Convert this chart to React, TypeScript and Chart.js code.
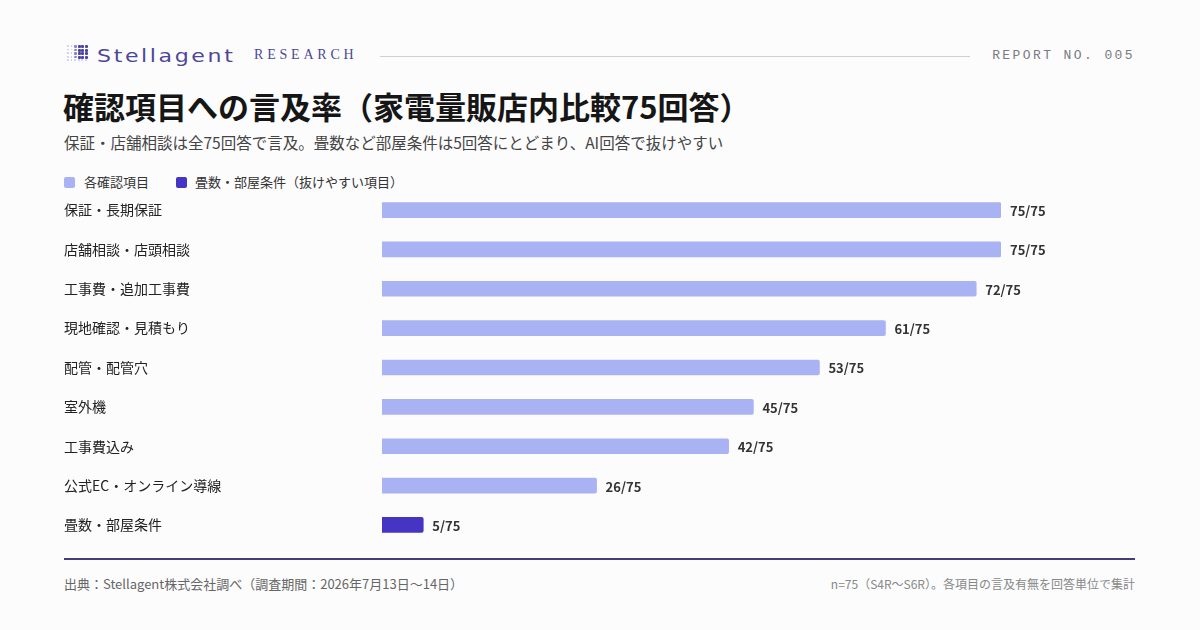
import React, { useEffect, useRef } from "react";
import { Chart, registerables } from "chart.js";

Chart.register(...registerables);

// Items checked in each answer and how many of the 75 answers mention them
const categories = [
  "保証・長期保証",
  "店舗相談・店頭相談",
  "工事費・追加工事費",
  "現地確認・見積もり",
  "配管・配管穴",
  "室外機",
  "工事費込み",
  "公式EC・オンライン導線",
  "畳数・部屋条件",
];
const mentions = [75, 75, 72, 61, 53, 45, 42, 26, 5];
const totalAnswers = 75;
// Items that tend to be dropped from AI answers get the accent colour
const weakItems = ["畳数・部屋条件"];

const legendLabels = ["各確認項目", "畳数・部屋条件（抜けやすい項目）"];

const LIGHT = "#a9b3f4";
const DARK = "#4634c4";
const JP = '"Noto Sans CJK JP", "Noto Sans", sans-serif';

const valueLabels = {
  id: "valueLabels",
  afterDatasetsDraw(chart: any) {
    const { ctx } = chart;
    const meta = chart.getDatasetMeta(0);
    ctx.save();
    ctx.font = `bold 13px ${JP}`;
    ctx.fillStyle = "#333333";
    ctx.textAlign = "left";
    ctx.textBaseline = "middle";
    meta.data.forEach((bar: any, i: number) => {
      ctx.fillText(`${mentions[i]}/${totalAnswers}`, bar.x + 9, bar.y + 1);
    });
    ctx.restore();
  },
};

function BarChart() {
  const ref = useRef<HTMLCanvasElement>(null);
  useEffect(() => {
    if (!ref.current) return;
    const chart = new Chart(ref.current, {
      type: "bar",
      data: {
        labels: categories,
        datasets: [
          {
            data: mentions,
            backgroundColor: categories.map((c) => (weakItems.includes(c) ? DARK : LIGHT)),
            barThickness: 15,
            borderRadius: 2,
            borderSkipped: "start",
          },
        ],
      },
      options: {
        indexAxis: "y",
        animation: false,
        responsive: false,
        maintainAspectRatio: false,
        layout: { padding: { left: 0, right: 63, top: 0, bottom: 0 } },
        plugins: { legend: { display: false }, tooltip: { enabled: false } },
        scales: {
          x: { display: false, min: 0, max: totalAnswers },
          y: {
            offset: true,
            grid: { display: false },
            border: { display: false },
            afterFit(scale: any) {
              scale.width = 318;
            },
            ticks: {
              crossAlign: "far",
              padding: 0,
              color: "#222222",
              font: { family: JP, size: 14 },
            },
          },
        },
      },
      plugins: [valueLabels],
    });
    return () => chart.destroy();
  }, []);
  return (
    <canvas
      ref={ref}
      width={1000}
      height={371}
      style={{ position: "absolute", left: 64, top: 182, width: 1000, height: 371 }}
    />
  );
}

function LogoMark() {
  const dots: React.ReactNode[] = [];
  const cols = 6;
  const rows = 5;
  for (let r = 0; r < rows; r++) {
    for (let c = 0; c < cols; c++) {
      const strong = c >= 3 && r < 4;
      const mid = c === 2 && r < 4;
      const size = strong ? 3 : mid ? 2.5 : 1.8;
      const color = strong ? "#4b43a8" : mid ? "#8a84cc" : "#c9c6e8";
      dots.push(
        <div
          key={`${r}-${c}`}
          style={{
            position: "absolute",
            left: c * 3.6,
            top: r * 3.6,
            width: size,
            height: size,
            borderRadius: 1,
            background: color,
          }}
        />
      );
    }
  }
  return <div style={{ position: "absolute", left: 67, top: 45, width: 22, height: 18 }}>{dots}</div>;
}

export default function App() {
  const abs = (o: React.CSSProperties): React.CSSProperties => ({ position: "absolute", whiteSpace: "nowrap", ...o });
  return (
    <div
      style={{
        position: "fixed",
        left: 0,
        top: 0,
        width: 1200,
        height: 630,
        background: "#fcfcfd",
        fontFamily: JP,
        overflow: "hidden",
      }}
    >
      <LogoMark />
      <div
        style={abs({
          left: 97,
          top: 45,
          fontFamily: '"DejaVu Sans", sans-serif',
          fontSize: 17,
          lineHeight: "22px",
          letterSpacing: 2,
          color: "#4d4796",
          transform: "scaleX(1.3)",
          transformOrigin: "left center",
        })}
      >
        Stellagent
      </div>
      <div
        style={abs({
          left: 254,
          top: 46,
          fontFamily: '"Liberation Serif", "DejaVu Serif", serif',
          fontSize: 14,
          lineHeight: "18px",
          letterSpacing: 3.8,
          color: "#4d4796",
        })}
      >
        RESEARCH
      </div>
      <div style={abs({ left: 380, top: 56, width: 590, height: 1, background: "#cfcfd4" })} />
      <div
        style={abs({
          right: 65,
          top: 47,
          fontFamily: '"Liberation Mono", "DejaVu Sans Mono", monospace',
          fontSize: 13,
          lineHeight: "18px",
          letterSpacing: 2.4,
          color: "#7a7a80",
        })}
      >
        REPORT NO. 005
      </div>

      <div style={abs({ left: 63, top: 87, fontSize: 31, lineHeight: "38px", fontWeight: 700, color: "#161616" })}>
        確認項目への言及率（家電量販店内比較75回答）
      </div>
      <div style={abs({ left: 64, top: 132, fontSize: 15.5, lineHeight: "20px", color: "#444444" })}>
        保証・店舗相談は全75回答で言及。畳数など部屋条件は5回答にとどまり、AI回答で抜けやすい
      </div>

      <div style={abs({ left: 64, top: 173, display: "flex", alignItems: "center", fontSize: 13, lineHeight: "18px", color: "#333333" })}>
        <span style={{ width: 11, height: 11, borderRadius: 2, background: LIGHT, marginRight: 9 }} />
        <span style={{ marginRight: 27 }}>{legendLabels[0]}</span>
        <span style={{ width: 11, height: 11, borderRadius: 2, background: DARK, marginRight: 8 }} />
        <span>{legendLabels[1]}</span>
      </div>

      <BarChart />

      <div style={abs({ left: 64, top: 558, width: 1071, height: 2, background: "#453d78" })} />
      <div style={abs({ left: 64, top: 575, fontSize: 13, lineHeight: "18px", color: "#666666" })}>
        出典：Stellagent株式会社調べ（調査期間：2026年7月13日〜14日）
      </div>
      <div style={abs({ right: 65, top: 576, fontSize: 12, lineHeight: "16px", color: "#888888" })}>
        n=75（S4R〜S6R）。各項目の言及有無を回答単位で集計
      </div>
    </div>
  );
}
